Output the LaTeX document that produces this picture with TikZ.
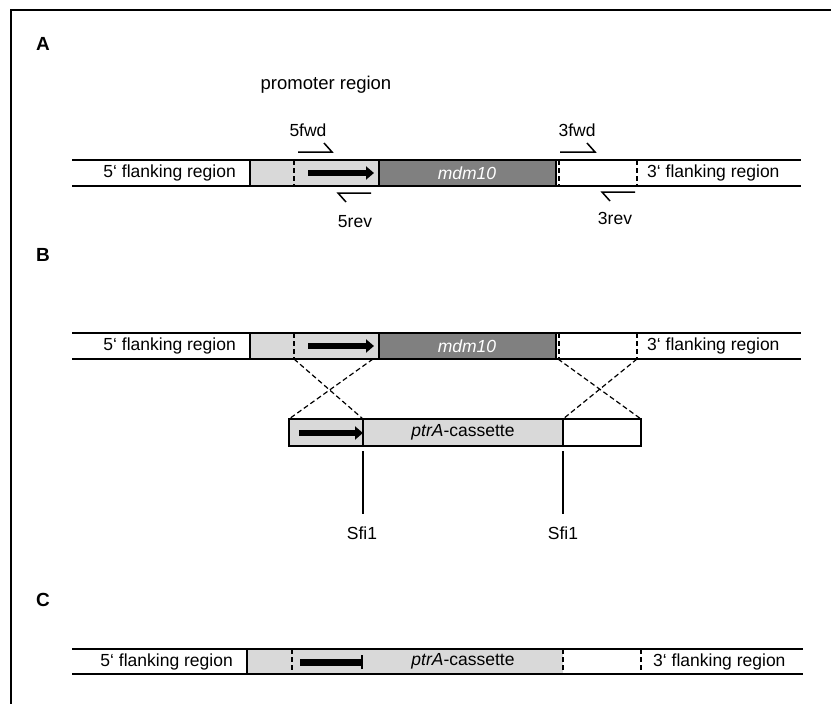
\documentclass[tikz,border=0pt]{standalone}
\usepackage{fontspec}
\setmainfont{Liberation Sans}
\usetikzlibrary{arrows.meta}
\begin{document}
\begin{tikzpicture}[x=1pt,y=-1pt,
  lbl/.style={font=\fontsize{17.5}{20}\selectfont, inner sep=0pt},
  panel/.style={font=\bfseries\fontsize{19}{22}\selectfont, inner sep=0pt},
  strip/.style={line width=1.6pt},
  box/.style={draw, line width=1.3pt},
  dsh/.style={line width=1.3pt, dash pattern=on 5pt off 3pt},
  bigarrow/.style={line width=5.5pt, -{Triangle[length=8pt,width=13pt]}},
  thickbar/.style={line width=7pt},
  primer/.style={line width=1.5pt},
  cross/.style={line width=1.2pt, dash pattern=on 5pt off 3pt},
  light/.style={fill=black!15},
  dark/.style={fill=black!50}
]
\useasboundingbox (0,0) rectangle (831,704);
\draw[line width=1.8pt] (11,704) -- (11,10) -- (831,10);

% ---------------- Panel A ----------------
\node[panel] (labA) at (43,44) {A};
\node[lbl, font=\fontsize{18.5}{20}\selectfont] (prom) at (326,85) {promoter region};
\fill[light] (250,160) rectangle (379,186);
\fill[dark] (379,160) rectangle (556,186);
\draw[box] (250,160) rectangle (379,186);
\draw[box] (379,160) rectangle (556,186);
\draw[strip] (72,160) -- (801,160) (72,186) -- (801,186);
\draw[dsh] (294,160) -- (294,186);
\draw[dsh] (559,160) -- (559,186);
\draw[dsh] (637,160) -- (637,186);
\coordinate (a1) at (308,173); \coordinate (a2) at (374,173);
\draw[bigarrow] (a1) -- (a2);
\node[lbl, anchor=east] (fA5) at (236,173) {5‘ flanking region};
\node[lbl, text=white] (mdmA) at (467,173) {\itshape mdm10};
\node[lbl, anchor=west] (fA3) at (647,173) {3‘ flanking region};
% primers
\draw[primer] (298,152) -- (332,152) -- (324,143);
\node[lbl] (p5f) at (308,130) {5fwd};
\draw[primer] (371,193) -- (338,193) -- (346,202);
\node[lbl] (p5r) at (355,222) {5rev};
\draw[primer] (560,152) -- (595,152) -- (587,143);
\node[lbl] (p3f) at (577,130) {3fwd};
\draw[primer] (635,192) -- (602,192) -- (610,201);
\node[lbl] (p3r) at (615,218) {3rev};

% ---------------- Panel B ----------------
\node[panel] (labB) at (43,255) {B};
\fill[light] (250,333) rectangle (379,359);
\fill[dark] (379,333) rectangle (556,359);
\draw[box] (250,333) rectangle (379,359);
\draw[box] (379,333) rectangle (556,359);
\draw[strip] (72,333) -- (801,333) (72,359) -- (801,359);
\draw[dsh] (294,333) -- (294,359);
\draw[dsh] (559,333) -- (559,359);
\draw[dsh] (637,333) -- (637,359);
\coordinate (b1) at (308,346); \coordinate (b2) at (374,346);
\draw[bigarrow] (b1) -- (b2);
\node[lbl, anchor=east] (fB5) at (236,346) {5‘ flanking region};
\node[lbl, text=white] (mdmB) at (467,346) {\itshape mdm10};
\node[lbl, anchor=west] (fB3) at (647,346) {3‘ flanking region};
% cassette
\fill[light] (289,419) rectangle (563,446);
\draw[box] (289,419) rectangle (363,446);
\draw[box] (363,419) rectangle (563,446);
\draw[box] (563,419) rectangle (641,446);
\coordinate (c1) at (299,433); \coordinate (c2) at (363,433);
\draw[bigarrow] (c1) -- (c2);
\node[lbl] (cas) at (463,432.5) {\itshape ptrA\upshape-cassette};
% crossover lines
\coordinate (x1) at (294,359); \coordinate (x2) at (373,359);
\coordinate (x3) at (558,359); \coordinate (x4) at (637,359);
\coordinate (y1) at (289,419); \coordinate (y2) at (363,419);
\coordinate (y3) at (563,419); \coordinate (y4) at (641,419);
\draw[cross] (x1) -- (y2);
\draw[cross] (x2) -- (y1);
\draw[cross] (x3) -- (y4);
\draw[cross] (x4) -- (y3);
% Sfi1 sites
\node[lbl] (s1) at (362,533) {Sfi1};
\node[lbl] (s2) at (563,533) {Sfi1};
\draw[line width=1.2pt] (363,451) -- (363,514);
\draw[line width=1.2pt] (563,451) -- (563,514);

% ---------------- Panel C ----------------
\node[panel] (labC) at (43,600) {C};
\fill[light] (247,649) rectangle (563,674);
\draw[box] (247,649) -- (247,674);
\draw[strip] (72,649) -- (803,649) (72,674) -- (803,674);
\draw[dsh] (292,649) -- (292,674);
\draw[dsh] (563,649) -- (563,674);
\draw[dsh] (641,649) -- (641,674);
\coordinate (d1) at (300,662); \coordinate (d2) at (362,662);
\draw[thickbar] (d1) -- (d2);
\draw[line width=1.3pt] ([yshift=-7pt]d2) -- ([yshift=7pt]d2);
\node[lbl, anchor=east] (fC5) at (233,661.5) {5‘ flanking region};
\node[lbl] (casC) at (463,661.5) {\itshape ptrA\upshape-cassette};
\node[lbl, anchor=west] (fC3) at (653,661.5) {3‘ flanking region};
\end{tikzpicture}
\end{document}
